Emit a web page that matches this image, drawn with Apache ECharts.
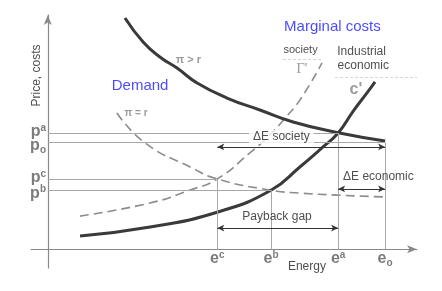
<!DOCTYPE html>
<html><head><meta charset="utf-8">
<script src="https://cdn.jsdelivr.net/npm/echarts@6/dist/echarts.min.js"></script>
<style>html,body{margin:0;padding:0;background:#fff}#c{width:442px;height:291px}</style>
</head><body><div id="c"></div>
<script>
// ---- tick values & labels ----
const energyTicks = [50.5, 66.5, 86.5, 100.5];
const energyLabels = ['e^c', 'e^b', 'e^a', 'e_o'];
const priceTicks = [62, 57, 37.5, 31.5];
const priceLabels = ['p^a', 'p_o', 'p^c', 'p^b'];

// ---- curves (energy, price) ----
const demandHigh = [[23.0,123.4],[28.4,110.6],[33.4,102.6],[38.5,96.7],[44.5,88.7],[53.4,80.7],[63.2,74.3],[73.1,67.9],[86.5,62.2],[100.5,57.8]];
const demandEq = [[20.6,72.7],[29.0,56.7],[42.4,43.9],[50.5,37.5],[66.5,31.5],[75.1,30.0],[86.2,28.9],[100.5,27.9]];
const mcSociety = [[9.6,17.7],[30.5,24.7],[42.4,31.6],[50.5,37.5],[60.2,51.4],[66.2,61.0],[70.7,70.0],[75.1,79.6],[81.7,99.4]];
const mcIndustrial = [[9.6,7.1],[30.5,11.9],[50.7,19.9],[66.5,31.5],[75.1,43.9],[82.0,54.6],[86.5,62.0],[90.9,73.5],[95.1,83.4],[97.5,89.3]];

// ---- arrow levels ----
const societyGapLevel = 54.6;
const economicGapLevel = 32.2;
const paybackLevel = 11.3;

const [ec, eb, ea, eo] = energyTicks;
const [pa, po, pc, pb] = priceTicks;

function toRich(s) {
  const base = s[0], mark = s[1], idx = s.slice(2);
  return mark === '^' ? '{b|' + base + '}{sup|' + idx + '}' : '{b|' + base + '}{sub|' + idx + '}';
}
const gray = '#7c7c7c';
const richStyle = {
  b: {fontSize: 16, fontWeight: 'bold', color: gray, fontFamily: 'Liberation Sans', lineHeight: 18},
  sup: {fontSize: 10, fontWeight: 'bold', color: gray, fontFamily: 'Liberation Sans', lineHeight: 10, verticalAlign: 'top'},
  sub: {fontSize: 10, fontWeight: 'bold', color: gray, fontFamily: 'Liberation Sans', lineHeight: 10, verticalAlign: 'bottom'}
};

const thin = {color: '#a8a8a8', width: 1, type: 'solid'};
const refSegments = [
  [[0, pa], [ea, pa]], [[0, po], [eo, po]], [[0, pc], [ec, pc]], [[0, pb], [eb, pb]],
  [[ec, pc], [ec, 0]], [[eb, pb], [eb, 0]], [[ea, pa], [ea, 0]], [[eo, po], [eo, 0]]
];
const arrows = [
  [[ec, societyGapLevel], [eo, societyGapLevel]],
  [[ea, economicGapLevel], [eo, economicGapLevel]],
  [[ec, paybackLevel], [ea, paybackLevel]]
];
const faint = [
  [[70.1, 101.5], [81.7, 101.5]],
  [[85.6, 91.9], [110, 91.9]]
];

function txt(text, pos, opts) {
  return {value: pos, label: Object.assign({show: true, position: 'inside', formatter: text,
    fontFamily: 'Liberation Sans', fontSize: 12, color: '#222'}, opts || {})};
}
const blue = '#1a1aff';
const annotations = [
  txt('Demand', [27.5, 87.1], {color: blue, fontSize: 15}),
  txt('Marginal costs', [84.8, 118.6], {color: blue, fontSize: 15}),
  txt('society', [75.3, 106.3], {fontSize: 11}),
  txt("Γ'", [75.7, 96.2], {fontFamily: 'Liberation Serif', fontSize: 15, color: '#888'}),
  txt('Industrial', [93.5, 105.3]),
  txt('economic', [94.0, 97.8]),
  txt("c'", [91.8, 85.0], {fontSize: 16, fontWeight: 'bold', color: '#858585'}),
  txt('π > r', [41.9, 101.0], {fontSize: 11, fontWeight: 'bold', color: '#808080'}),
  txt('π = r', [26.3, 72.7], {fontSize: 10, fontWeight: 'bold', color: '#808080'}),
  txt('ΔE society', [69.6, 59.9], {backgroundColor: '#fff', padding: [1, 4, 1, 4]}),
  txt('ΔE economic', [98.5, 38.6]),
  txt('Payback gap', [68.3, 17.2]),
  txt('Energy', [77.2, -9.5]),
  txt('Price, costs', [-3.2, 92.7], {rotate: 90})
];

function priceAxis(ticks, showLine, pad) {
  return {
    type: 'value', min: -10, max: 125, position: 'left', offset: 0,
    splitLine: {show: false}, axisTick: {show: false},
    axisLine: {show: showLine, onZero: true, symbol: ['none', 'arrow'], symbolSize: [6, 10],
      lineStyle: {color: '#8a8a8a', width: 1.2}},
    axisLabel: {customValues: ticks, margin: -15, rich: richStyle, hideOverlap: false, padding: pad,
      formatter: v => toRich(priceLabels[priceTicks.indexOf(v)])}
  };
}

const chart = echarts.init(document.getElementById('c'), null, {renderer: 'canvas'});
chart.setOption({
  animation: false,
  backgroundColor: '#fff',
  grid: {left: 31, right: 25, top: 15, bottom: 23},
  xAxis: {
    type: 'value', min: -5, max: 110, splitLine: {show: false}, axisTick: {show: false},
    axisLine: {show: true, onZero: true, onZeroAxisIndex: 0, symbol: ['none', 'arrow'], symbolSize: [6, 10],
      lineStyle: {color: '#8a8a8a', width: 1.2}},
    axisLabel: {customValues: energyTicks, margin: -18, rich: richStyle, hideOverlap: false,
      formatter: v => toRich(energyLabels[energyTicks.indexOf(v)])}
  },
  yAxis: [
    priceAxis([pa, pc], true, [0, 0, 2, 0]),
    priceAxis([po, pb], false, [7, 0, 0, 0])
  ],
  series: [
    {type: 'line', data: [[0, 0]], showSymbol: false, lineStyle: {opacity: 0}, silent: true, z: 1,
      markLine: {silent: true, symbol: ['none', 'none'], label: {show: false}, lineStyle: thin, animation: false,
        data: refSegments.map(s => [{coord: s[0]}, {coord: s[1]}]).concat(
          faint.map(s => [{coord: s[0], lineStyle: {color: '#d6d6d6', type: [3, 2], width: 1}}, {coord: s[1]}]))}},
    {type: 'line', data: [[0, 0]], showSymbol: false, lineStyle: {opacity: 0}, silent: true, z: 3,
      markLine: {silent: true, symbol: ['arrow', 'arrow'], symbolSize: [5, 7], label: {show: false},
        lineStyle: {color: '#333', width: 1, type: 'solid'}, animation: false,
        data: arrows.map(s => [{coord: s[0]}, {coord: s[1]}])}},
    {name: 'Demand π=r', type: 'line', data: demandEq, smooth: 0.5, showSymbol: false,
      lineStyle: {color: '#8c8c8c', width: 1.6, type: [9, 5]}, z: 2},
    {name: 'Society', type: 'line', data: mcSociety, smooth: 0.5, showSymbol: false,
      lineStyle: {color: '#8c8c8c', width: 1.6, type: [9, 5]}, z: 2},
    {name: 'Demand π>r', type: 'line', data: demandHigh, smooth: 0.5, showSymbol: false,
      lineStyle: {color: '#3a3a3a', width: 3}, z: 4},
    {name: 'Industrial', type: 'line', data: mcIndustrial, smooth: 0.5, showSymbol: false,
      lineStyle: {color: '#3a3a3a', width: 3}, z: 4},
    {type: 'scatter', symbolSize: 0, silent: true, data: annotations, z: 5}
  ]
});
</script>
</body></html>
